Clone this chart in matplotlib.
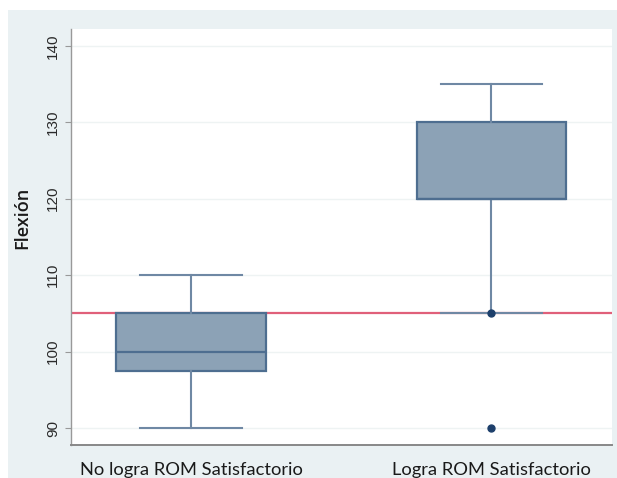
import matplotlib
matplotlib.use("Agg")
import matplotlib.pyplot as plt

# Group labels and box-plot summary statistics (Flexión, degrees)
groups = ["No logra ROM Satisfactorio", "Logra ROM Satisfactorio"]
q1 = [97.5, 120]
median = [100, 120]
q3 = [105, 130]
whisker_low = [90, 105]
whisker_high = [110, 135]
outliers = [[], [105, 90]]

reference_value = 105
y_ticks = [90, 100, 110, 120, 130, 140]

fig = plt.figure(figsize=(6.17, 4.78), dpi=100)
fig.patch.set_facecolor("white")

# Light outer panel behind the plot region
panel = plt.Rectangle((8 / 617, 0), 1 - 8 / 617, 1 - 10 / 478,
                      transform=fig.transFigure, facecolor="#eaf1f3",
                      edgecolor="none", zorder=-5)
fig.patches.append(panel)

ax = fig.add_axes([71 / 617, 1 - 445 / 478, (612 - 71) / 617, (445 - 29) / 478])
ax.set_facecolor("white")

stats = []
for i in range(len(groups)):
    stats.append(dict(med=median[i], q1=q1[i], q3=q3[i],
                      whislo=whisker_low[i], whishi=whisker_high[i],
                      fliers=outliers[i], label=groups[i]))

positions = [1, 2]
ax.axhline(reference_value, color="#e0607a", lw=1.6, zorder=1)

ax.bxp(stats, positions=positions, widths=0.497, patch_artist=True,
       showfliers=True,
       boxprops=dict(facecolor="#8ca2b6", edgecolor="#4e6e90", lw=1.6),
       medianprops=dict(color="#4e6e90", lw=1.6),
       whiskerprops=dict(color="#6f88a4", lw=1.5),
       capprops=dict(color="#6f88a4", lw=1.5),
       capwidths=0.337,
       flierprops=dict(marker="o", markersize=5, markerfacecolor="#1d3f6b",
                       markeredgecolor="#1d3f6b"),
       zorder=3)

ax.set_xlim(0.6, 2.403)
ax.set_ylim(87.78, 142.2)
ax.set_yticks(y_ticks)
ax.set_yticklabels([str(t) for t in y_ticks], rotation=90, va="center",
                   fontsize=11, color="#2a2a2a", family="Liberation Sans")
ax.yaxis.grid(True, color="#eef3f3", lw=1.0)
ax.set_axisbelow(True)

ax.set_xticks(positions)
ax.set_xticklabels(groups, fontsize=13.2, color="#1a1a1a", family="Lato")
ax.tick_params(axis="x", length=0, pad=12)
ax.tick_params(axis="y", length=4, color="#999999", width=0.8, pad=4)

ax.set_ylabel("Flexión", fontsize=13, color="#1a1a1a",
              family="Open Sans", weight="semibold")
ax.yaxis.set_label_coords(-0.074, 0.546)

for side in ["top", "right"]:
    ax.spines[side].set_visible(False)
ax.spines["left"].set_color("#999999")
ax.spines["left"].set_linewidth(1.0)
ax.spines["bottom"].set_color("#888888")
ax.spines["bottom"].set_linewidth(1.4)

fig.savefig("out.png", dpi=100, facecolor=fig.get_facecolor())
